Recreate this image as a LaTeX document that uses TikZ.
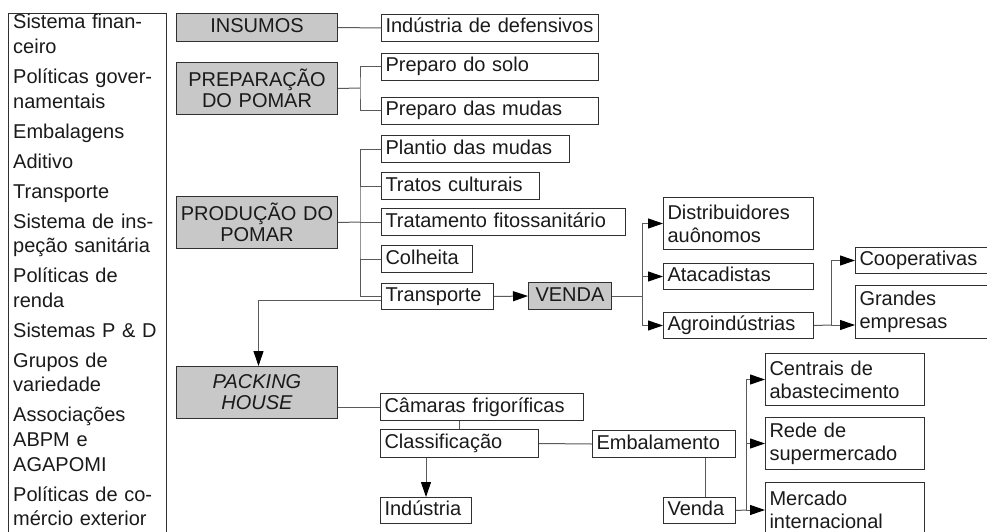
\documentclass[tikz,border=0pt]{standalone}
\usepackage{fontspec}
\setmainfont{Liberation Sans}
\usetikzlibrary{arrows.meta}
\definecolor{boxgray}{HTML}{C8C8C8}
\definecolor{edgec}{HTML}{303030}
\definecolor{connc}{HTML}{5A5A5A}
\definecolor{txtc}{HTML}{1A1A1A}
\begin{document}
\begin{tikzpicture}[x=1pt,y=-1pt,
  every node/.style={font=\fontsize{20}{23}\selectfont, text=txtc},
  wbox/.style={draw=edgec, line width=1pt, fill=white, anchor=north west, inner xsep=4pt, inner ysep=0pt, align=left},
  gbox/.style={draw=edgec, line width=1pt, fill=boxgray, anchor=north west, inner xsep=3pt, inner ysep=0pt, align=center, font=\fontsize{20}{21}\selectfont},
  one/.style={text height=14.5pt, text depth=4.5pt},
  conn/.style={draw=connc, line width=1pt},
  arr/.style={conn, -{Triangle[length=15pt,width=10pt,color=black]}},
]
\useasboundingbox (0,0) rectangle (987,532);
\clip (0,0) rectangle (987,532);

% left list
\node[draw=edgec, line width=1pt, anchor=north west, minimum width=158pt, minimum height=540pt, inner sep=0pt] (lft) at (8,13) {};
\node[anchor=base west, text width=152pt, align=left, inner sep=0pt, font=\fontsize{20}{24.6}\selectfont] (lst) at (13,29)
 {Sistema finan-\\ceiro\\[5.4pt]
  Políticas gover-\\namentais\\[5.4pt]
  Embalagens\\[5.4pt]
  Aditivo\\[5.4pt]
  Transporte\\[5.4pt]
  Sistema de ins-\\peção sanitária\\[5.4pt]
  Políticas de\\renda\\[5.4pt]
  Sistemas P \& D\\[5.4pt]
  Grupos de\\variedade\\[5.4pt]
  Associações\\ABPM e\\AGAPOMI\\[5.4pt]
  Políticas de co-\\mércio exterior};

% gray stage boxes
\node[gbox, one, minimum height=28pt, text width=155pt] (ins) at (176,13) {INSUMOS};
\node[gbox, minimum height=52pt, text width=155pt] (prep) at (176,62) {PREPARAÇÃO\\DO POMAR};
\node[gbox, minimum height=52pt, text width=155pt] (prod) at (176,196) {PRODUÇÃO DO\\POMAR};
\node[gbox, one, minimum height=27pt, text width=77pt] (venda) at (528,282) {VENDA};
\node[gbox, minimum height=52pt, text width=155pt, font=\fontsize{20}{21}\selectfont\itshape] (pack) at (176,366) {PACKING\\HOUSE};

% white boxes
\node[wbox, one, minimum height=27pt, text width=209pt] (ind) at (381,14) {Indústria de defensivos};
\node[wbox, one, minimum height=27pt, text width=209pt] (solo) at (381,53) {Preparo do solo};
\node[wbox, one, minimum height=27pt, text width=209pt] (mudas) at (381,97) {Preparo das mudas};
\node[wbox, one, minimum height=27pt, text width=180pt] (plan) at (381,135) {Plantio das mudas};
\node[wbox, one, minimum height=27pt, text width=150pt] (trat) at (381,172) {Tratos culturais};
\node[wbox, one, minimum height=27pt, text width=236pt] (fito) at (381,208) {Tratamento fitossanitário};
\node[wbox, one, minimum height=27pt, text width=83pt] (colh) at (381,245) {Colheita};
\node[wbox, one, minimum height=26pt, text width=104pt] (tra) at (381,283) {Transporte};

\node[wbox, minimum height=52pt, text width=142pt] (dist) at (663,197) {Distribuidores\\auônomos};
\node[wbox, one, minimum height=26pt, text width=142pt] (atac) at (663,263) {Atacadistas};
\node[wbox, one, minimum height=26pt, text width=142pt] (agro) at (663,312) {Agroindústrias};
\node[wbox, one, minimum height=26pt, text width=132pt] (coop) at (855,247) {Cooperativas};
\node[wbox, minimum height=53pt, text width=132pt] (gran) at (855,285) {Grandes\\empresas};

\node[wbox, one, minimum height=27pt, text width=195pt] (cam) at (380,393) {Câmaras frigoríficas};
\node[wbox, one, minimum height=28pt, text width=150pt] (cla) at (380,429) {Classificação};
\node[wbox, one, minimum height=27pt, text width=135pt] (emb) at (592,430) {Embalamento};
\node[wbox, one, minimum height=26pt, text width=83pt] (ind2) at (380,497) {Indústria};
\node[wbox, one, minimum height=26pt, text width=64pt] (vnd) at (663,497) {Venda};
\node[wbox, minimum height=52pt, text width=151pt] (cent) at (765,353) {Centrais de\\abastecimento};
\node[wbox, minimum height=52pt, text width=151pt] (rede) at (765,417) {Rede de\\supermercado};
\node[wbox, minimum height=54pt, text width=151pt] (merc) at (765,482) {Mercado\\internacional};

% connectors
\draw[conn] (ins.east) -- (ind.west);
\coordinate (bp) at (360,88);
\draw[conn] (prep.east) -- (bp);
\draw[conn] (solo.west) -| (bp) |- (mudas.west);

\coordinate (bq) at (360,222);
\draw[conn] (prod.east) -- (bq);
\draw[conn] (plan.west) -| (bq) |- (tra.west);
\draw[conn] (trat.west) -- (trat.west -| bq);
\draw[conn] (fito.west) -- (fito.west -| bq);
\draw[conn] (colh.west) -- (colh.west -| bq);

\draw[arr] (tra.east) -- (venda.west);
\draw[arr] ([yshift=-4pt]tra.west) -| ([xshift=1.5pt]pack.north);

\coordinate (bv) at (642,296);
\draw[conn] (venda.east) -- (bv);
\draw[arr] (bv) |- (dist.west);
\draw[arr] (bv) |- (agro.west);
\draw[arr] (atac.west -| bv) -- (atac.west);

\coordinate (ba) at (831,325);
\draw[conn] (agro.east) -- (ba);
\draw[arr] (ba) -- (ba -| gran.west);
\draw[arr] (ba) |- (coop.west);

\draw[conn] (cam.west) -- (cam.west -| pack.east);
\draw[conn] (cla.north) -- (cla.north |- cam.south);
\draw[arr] (cla.south -| ind2.north) -- (ind2.north);
\draw[conn] (cla.east) -- (emb.west);
\draw[conn] ([xshift=6pt]vnd.north) -- ([xshift=6pt]vnd.north |- emb.south);

\coordinate (bw) at (746,510);
\draw[conn] (vnd.east) -- (bw);
\draw[arr] (bw) |- (cent.west);
\draw[arr] (bw) |- (rede.west);
\draw[arr] (bw) -- (bw -| merc.west);
\end{tikzpicture}
\end{document}
